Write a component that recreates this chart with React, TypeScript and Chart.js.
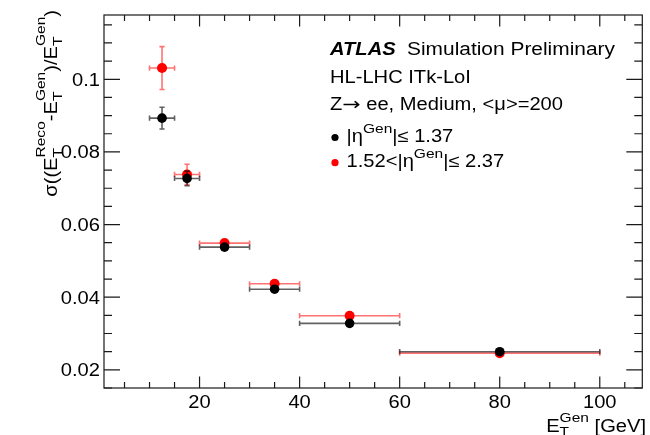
import React, { useEffect, useRef } from "react";
import { Chart, registerables } from "chart.js";
Chart.register(...registerables);

// ---- data ----
const binCenters = [12.5, 17.5, 25, 35, 50, 80];
const binLow = [10, 15, 20, 30, 40, 60];
const binHigh = [15, 20, 30, 40, 60, 100];
const centralValues = [0.0893, 0.0727, 0.0538, 0.0422, 0.0328, 0.025];
const centralErrors = [0.003, 0.002, 0.0005, 0.0004, 0.0003, 0.0002];
const forwardValues = [0.1031, 0.0738, 0.0549, 0.0437, 0.0349, 0.0246];
const forwardErrors = [0.0059, 0.0028, 0.0007, 0.0005, 0.0004, 0.0002];

const xMajorTicks = [20, 40, 60, 80, 100];
const xMajorLabels = ["20", "40", "60", "80", "100"];
const xMinorTicks = [5, 10, 15, 25, 30, 35, 45, 50, 55, 65, 70, 75, 85, 90, 95, 105];
const yMajorTicks = [0.02, 0.04, 0.06, 0.08, 0.1];
const yMajorLabels = ["0.02", "0.04", "0.06", "0.08", "0.1"];
const yMinorTicks = [0.015, 0.025, 0.03, 0.035, 0.045, 0.05, 0.055, 0.065, 0.07, 0.075, 0.085, 0.09, 0.095, 0.105, 0.11, 0.115];

const X_MIN = 0.9;
const X_MAX = 108.5;
const Y_MIN = 0.015;
const Y_MAX = 0.1177;

const FONT = '"Liberation Sans", Arial, Helvetica, sans-serif';
const ARROW_FONT = '"DejaVu Sans", sans-serif';
const SX = 1.15;
const MAIN = 17.5;
const SMALL = 13.5;

type Item = string | { sub?: string; sup?: string };

function textW(ctx: CanvasRenderingContext2D, t: string, size: number, style = "", sx = SX, fam = FONT) {
  ctx.save();
  ctx.font = `${style}${size}px ${fam}`;
  const w = ctx.measureText(t).width * sx;
  ctx.restore();
  return w;
}

function drawStr(ctx: CanvasRenderingContext2D, t: string, x: number, y: number, size: number, style = "", sx = SX, fam = FONT) {
  ctx.save();
  ctx.font = `${style}${size}px ${fam}`;
  const w = ctx.measureText(t).width * sx;
  ctx.translate(x, y);
  ctx.scale(sx, 1);
  ctx.textAlign = "left";
  ctx.textBaseline = "alphabetic";
  ctx.fillText(t, 0, 0);
  ctx.restore();
  return w;
}

function runWidth(ctx: CanvasRenderingContext2D, items: Item[]) {
  let w = 0;
  for (const it of items) {
    if (typeof it === "string") w += textW(ctx, it, MAIN);
    else w += Math.max(it.sub ? textW(ctx, it.sub, SMALL) : 0, it.sup ? textW(ctx, it.sup, SMALL) : 0);
  }
  return w;
}

function drawRun(ctx: CanvasRenderingContext2D, items: Item[], x: number, y: number, raise: number, drop: number) {
  let cx = x;
  for (const it of items) {
    if (typeof it === "string") {
      cx += drawStr(ctx, it, cx, y, MAIN);
    } else {
      let w = 0;
      if (it.sub) w = Math.max(w, drawStr(ctx, it.sub, cx, y + drop, SMALL));
      if (it.sup) w = Math.max(w, drawStr(ctx, it.sup, cx, y - raise, SMALL));
      cx += w;
    }
  }
  return cx - x;
}

const errorBarPlugin = {
  id: "errorBars",
  beforeDatasetDraw(chart: any, args: any) {
    const ds = chart.data.datasets[args.index];
    const xs = chart.scales.x;
    const ys = chart.scales.y;
    const ctx: CanvasRenderingContext2D = chart.ctx;
    ctx.save();
    ctx.strokeStyle = ds.errColor;
    ctx.lineWidth = 1.6;
    const cap = 2.6;
    for (const p of ds.data) {
      const px = xs.getPixelForValue(p.x);
      const py = ys.getPixelForValue(p.y);
      const pl = xs.getPixelForValue(p.xMin);
      const ph = xs.getPixelForValue(p.xMax);
      const yl = ys.getPixelForValue(p.y - p.yErr);
      const yh = ys.getPixelForValue(p.y + p.yErr);
      ctx.beginPath();
      ctx.moveTo(pl, py);
      ctx.lineTo(ph, py);
      ctx.moveTo(pl, py - cap);
      ctx.lineTo(pl, py + cap);
      ctx.moveTo(ph, py - cap);
      ctx.lineTo(ph, py + cap);
      if (Math.abs(yl - py) > 4.5) {
        ctx.moveTo(px, yl);
        ctx.lineTo(px, yh);
        ctx.moveTo(px - cap, yl);
        ctx.lineTo(px + cap, yl);
        ctx.moveTo(px - cap, yh);
        ctx.lineTo(px + cap, yh);
      }
      ctx.stroke();
    }
    ctx.restore();
  },
};

const framePlugin = {
  id: "frame",
  afterDraw(chart: any) {
    const ctx: CanvasRenderingContext2D = chart.ctx;
    const xs = chart.scales.x;
    const ys = chart.scales.y;
    const { left, right, top, bottom } = chart.chartArea;
    ctx.save();
    ctx.strokeStyle = "#1a1a1a";
    ctx.lineWidth = 1.2;
    ctx.strokeRect(left, top, right - left, bottom - top);
    ctx.beginPath();
    for (const v of xMajorTicks) {
      const p = xs.getPixelForValue(v);
      ctx.moveTo(p, bottom); ctx.lineTo(p, bottom - 11.5);
      ctx.moveTo(p, top); ctx.lineTo(p, top + 11.5);
    }
    for (const v of xMinorTicks) {
      const p = xs.getPixelForValue(v);
      ctx.moveTo(p, bottom); ctx.lineTo(p, bottom - 6);
      ctx.moveTo(p, top); ctx.lineTo(p, top + 6);
    }
    for (const v of yMajorTicks) {
      const p = ys.getPixelForValue(v);
      ctx.moveTo(left, p); ctx.lineTo(left + 16, p);
      ctx.moveTo(right, p); ctx.lineTo(right - 16, p);
    }
    for (const v of yMinorTicks) {
      const p = ys.getPixelForValue(v);
      ctx.moveTo(left, p); ctx.lineTo(left + 8, p);
      ctx.moveTo(right, p); ctx.lineTo(right - 8, p);
    }
    ctx.stroke();

    ctx.fillStyle = "#000";
    // tick labels
    xMajorTicks.forEach((v, i) => {
      const p = xs.getPixelForValue(v);
      const w = textW(ctx, xMajorLabels[i], MAIN);
      drawStr(ctx, xMajorLabels[i], p - w / 2, 408, MAIN);
    });
    yMajorTicks.forEach((v, i) => {
      const p = ys.getPixelForValue(v);
      const w = textW(ctx, yMajorLabels[i], MAIN);
      drawStr(ctx, yMajorLabels[i], left - 4 - w, p + 6.4, MAIN);
    });

    // x title
    const xTitle: Item[] = ["E", { sub: "T", sup: "Gen" }, " [GeV]"];
    const xw = runWidth(ctx, xTitle);
    drawRun(ctx, xTitle, 646 - xw, 432, 10, 4);

    // y title
    const yTitle: Item[] = ["\u03c3((E", { sub: "T", sup: "Reco" }, "-E", { sub: "T", sup: "Gen" }, ")/E", { sub: "T", sup: "Gen" }, ")"];
    const yw = runWidth(ctx, yTitle);
    ctx.save();
    ctx.translate(57, 10 + yw);
    ctx.rotate(-Math.PI / 2);
    drawRun(ctx, yTitle, 0, 0, 12.5, 5);
    ctx.restore();

    // labels
    drawStr(ctx, "ATLAS", 330, 55, MAIN, "italic bold ");
    const simText = "Simulation Preliminary";
    const simSx = 208 / textW(ctx, simText, MAIN, "", 1);
    drawStr(ctx, simText, 407, 55, MAIN, "", simSx);
    drawStr(ctx, "HL-LHC ITk-LoI", 330, 83, MAIN);
    let zx = 330 + drawStr(ctx, "Z", 330, 110, MAIN);
    zx += drawStr(ctx, "\u2192", zx, 110, MAIN, "", 1.25, ARROW_FONT);
    drawStr(ctx, " ee, Medium, <\u03bc>=200", zx, 110, MAIN);

    ctx.fillStyle = "#000";
    ctx.beginPath();
    ctx.arc(335, 137.5, 3.6, 0, Math.PI * 2);
    ctx.fill();
    drawRun(ctx, ["|\u03b7", { sup: "Gen" }, "|\u2264 1.37"], 346.5, 141.5, 8.5, 4);
    ctx.fillStyle = "#ff0000";
    ctx.beginPath();
    ctx.arc(335, 162.7, 3.6, 0, Math.PI * 2);
    ctx.fill();
    ctx.fillStyle = "#000";
    drawRun(ctx, ["1.52<|\u03b7", { sup: "Gen" }, "|\u2264 2.37"], 346.5, 166.5, 8.5, 4);
    ctx.restore();
  },
};

export default function App() {
  const ref = useRef<HTMLCanvasElement | null>(null);
  useEffect(() => {
    if (!ref.current) return;
    const mk = (vals: number[], errs: number[]) =>
      binCenters.map((x, i) => ({ x, y: vals[i], xMin: binLow[i], xMax: binHigh[i], yErr: errs[i] }));
    const chart = new Chart(ref.current, {
      type: "scatter",
      data: {
        datasets: [
          {
            label: "|eta| <= 1.37",
            data: mk(centralValues, centralErrors),
            backgroundColor: "#000000",
            borderColor: "#000000",
            pointRadius: 4.8,
            borderWidth: 0,
            errColor: "rgba(0,0,0,0.62)",
          } as any,
          {
            label: "1.52 < |eta| <= 2.37",
            data: mk(forwardValues, forwardErrors),
            backgroundColor: "#ff0000",
            borderColor: "#ff0000",
            pointRadius: 5,
            borderWidth: 0,
            errColor: "rgba(255,0,0,0.55)",
          } as any,
        ],
      },
      options: {
        responsive: false,
        animation: false,
        layout: { padding: { left: 104, right: 7.7, top: 15, bottom: 47 } },
        plugins: { legend: { display: false }, tooltip: { enabled: false } },
        scales: {
          x: { type: "linear", min: X_MIN, max: X_MAX, display: false },
          y: { type: "linear", min: Y_MIN, max: Y_MAX, display: false },
        },
      },
      plugins: [errorBarPlugin, framePlugin],
    });
    return () => chart.destroy();
  }, []);
  return (
    <div style={{ position: "absolute", left: 0, top: 0, width: 650, height: 435, background: "#fff" }}>
      <canvas ref={ref} width={650} height={435} style={{ display: "block" }} />
    </div>
  );
}
